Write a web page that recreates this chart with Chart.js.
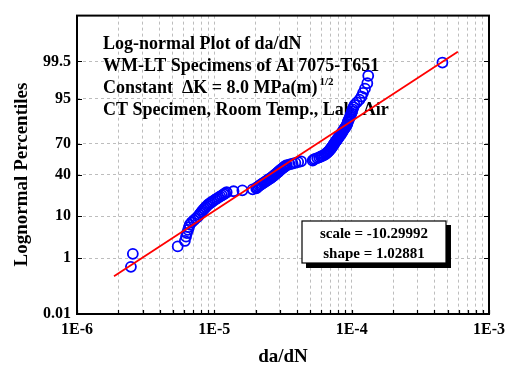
<!DOCTYPE html>
<html>
<head>
<meta charset="utf-8">
<script src="https://cdn.jsdelivr.net/npm/chart.js@4.4.0/dist/chart.umd.min.js"></script>
<style>
  html, body { margin: 0; padding: 0; background: #fff; }
</style>
</head>
<body>
<canvas id="probChart" width="514" height="367"></canvas>
<script>
// measured crack growth rates, sorted
const daDN = [
  2.47e-6, 2.55e-6, 5.41e-6, 6.10e-6, 6.22e-6, 6.32e-6, 6.44e-6, 6.53e-6, 6.62e-6, 6.82e-6,
  7.08e-6, 7.33e-6, 7.60e-6, 7.77e-6, 7.94e-6, 8.11e-6, 8.28e-6, 8.47e-6, 8.65e-6, 8.83e-6,
  9.03e-6, 9.29e-6, 9.57e-6, 9.84e-6, 1.014e-5, 1.043e-5, 1.074e-5, 1.104e-5, 1.137e-5, 1.17e-5,
  1.20e-5, 1.23e-5, 1.38e-5, 1.60e-5, 1.90e-5, 2.02e-5, 2.04e-5, 2.08e-5, 2.13e-5, 2.17e-5,
  2.22e-5, 2.27e-5, 2.32e-5, 2.37e-5, 2.42e-5, 2.47e-5, 2.52e-5, 2.58e-5, 2.63e-5, 2.67e-5,
  2.72e-5, 2.76e-5, 2.81e-5, 2.85e-5, 2.90e-5, 2.94e-5, 2.99e-5, 3.03e-5, 3.08e-5, 3.13e-5,
  3.18e-5, 3.24e-5, 3.29e-5, 3.37e-5, 3.54e-5, 3.71e-5, 3.89e-5, 4.08e-5, 4.28e-5, 5.20e-5,
  5.30e-5, 5.40e-5, 5.61e-5, 5.80e-5, 5.97e-5, 6.15e-5, 6.34e-5, 6.46e-5, 6.55e-5, 6.65e-5,
  6.75e-5, 6.84e-5, 6.93e-5, 7.01e-5, 7.08e-5, 7.16e-5, 7.23e-5, 7.30e-5, 7.36e-5, 7.45e-5,
  7.52e-5, 7.60e-5, 7.68e-5, 7.76e-5, 7.85e-5, 7.94e-5, 8.04e-5, 8.13e-5, 8.22e-5, 8.32e-5,
  8.43e-5, 8.53e-5, 8.63e-5, 8.73e-5, 8.85e-5, 8.97e-5, 9.10e-5, 9.22e-5, 9.29e-5, 9.35e-5,
  9.42e-5, 9.53e-5, 9.64e-5, 9.75e-5, 9.84e-5, 9.95e-5, 1.005e-4, 1.016e-4, 1.03e-4, 1.05e-4,
  1.09e-4, 1.14e-4, 1.18e-4, 1.21e-4, 1.25e-4, 1.30e-4, 1.32e-4, 4.58e-4
];

// plotting positions (%) of each value
const percentiles = [
  0.55, 1.32, 2.10, 2.88, 3.66, 4.44, 5.22, 6.00, 6.78, 7.55,
  8.33, 9.11, 9.89, 10.67, 11.45, 12.23, 13.01, 13.79, 14.56, 15.34,
  16.12, 16.90, 17.68, 18.46, 19.24, 20.02, 20.79, 21.57, 22.35, 23.13,
  23.91, 24.69, 25.47, 26.25, 27.02, 27.80, 28.58, 29.36, 30.14, 30.92,
  31.70, 32.48, 33.26, 34.03, 34.81, 35.59, 36.37, 37.15, 37.93, 38.71,
  39.49, 40.26, 41.04, 41.82, 42.60, 43.38, 44.16, 44.94, 45.72, 46.50,
  47.27, 48.05, 48.83, 49.61, 50.39, 51.17, 51.95, 52.73, 53.50, 54.28,
  55.06, 55.84, 56.62, 57.40, 58.18, 58.96, 59.74, 60.51, 61.29, 62.07,
  62.85, 63.63, 64.41, 65.19, 65.97, 66.74, 67.52, 68.30, 69.08, 69.86,
  70.64, 71.42, 72.20, 72.98, 73.75, 74.53, 75.31, 76.09, 76.87, 77.65,
  78.43, 79.21, 79.98, 80.76, 81.54, 82.32, 83.10, 83.88, 84.66, 85.44,
  86.21, 86.99, 87.77, 88.55, 89.33, 90.11, 90.89, 91.67, 92.45, 93.22,
  94.00, 94.78, 95.56, 96.34, 97.12, 97.90, 98.68, 99.46
];

// fitted lognormal line end points
const fitX = [1.86e-6, 5.93e-4];
const fitP = [0.273, 99.76];

const yTickLabels = ['0.01', '1', '10', '40', '70', '95', '99.5'];
const xTickLabels = ['1E-6', '1E-5', '1E-4', '1E-3'];

const noteLines = [
  'Log-normal Plot of da/dN',
  'WM-LT Specimens of Al 7075-T651',
  'Constant  \u0394K = 8.0 MPa(m)',
  'CT Specimen, Room Temp., Lab. Air'
];
const noteSup = '1/2';
const fitText = ['scale = -10.29992', 'shape = 1.02881'];

const SERIF = '"Liberation Serif", "Times New Roman", serif';

// inverse of the standard normal cdf (probability paper axis)
function probit(p) {
  const a = [-3.969683028665376e+01, 2.209460984245205e+02, -2.759285104469687e+02, 1.383577518672690e+02, -3.066479806614716e+01, 2.506628277459239e+00];
  const b = [-5.447609879822406e+01, 1.615858368580409e+02, -1.556989798598866e+02, 6.680131188771972e+01, -1.328068155288572e+01];
  const c = [-7.784894002430293e-03, -3.223964580411365e-01, -2.400758277161838e+00, -2.549671348283830e+00, 4.374664141464968e+00, 2.938163982698783e+00];
  const d = [7.784695709041462e-03, 3.224671290700398e-01, 2.445134137142996e+00, 3.754408661907416e+00];
  const pl = 0.02425;
  let q, r;
  if (p < pl) {
    q = Math.sqrt(-2 * Math.log(p));
    return (((((c[0]*q+c[1])*q+c[2])*q+c[3])*q+c[4])*q+c[5]) / ((((d[0]*q+d[1])*q+d[2])*q+d[3])*q+1);
  }
  if (p > 1 - pl) {
    q = Math.sqrt(-2 * Math.log(1 - p));
    return -(((((c[0]*q+c[1])*q+c[2])*q+c[3])*q+c[4])*q+c[5]) / ((((d[0]*q+d[1])*q+d[2])*q+d[3])*q+1);
  }
  q = p - 0.5;
  r = q * q;
  return (((((a[0]*r+a[1])*r+a[2])*r+a[3])*r+a[4])*r+a[5])*q / (((((b[0]*r+b[1])*r+b[2])*r+b[3])*r+b[4])*r+1);
}

const pointData = daDN.map((x, i) => ({ x: x, y: probit(percentiles[i] / 100) }));
const fitData = fitX.map((x, i) => ({ x: x, y: probit(fitP[i] / 100) }));

// frame, inward ticks, text notes and the fit box
const decorPlugin = {
  id: 'decor',
  beforeDatasetsDraw(chart) {
    const ctx = chart.ctx;
    ctx.save();
    ctx.fillStyle = '#000';
    ctx.textAlign = 'left';
    ctx.textBaseline = 'alphabetic';
    ctx.font = 'bold 18px ' + SERIF;
    const baselines = [48.5, 70.5, 93, 115];
    noteLines.forEach((t, i) => ctx.fillText(t, 103, baselines[i]));
    const w = ctx.measureText(noteLines[2]).width;
    ctx.font = 'bold 11px ' + SERIF;
    ctx.fillText(noteSup, 103 + w + 2, 85);
    ctx.restore();
  },
  afterDatasetsDraw(chart) {
    const ctx = chart.ctx;
    const a = chart.chartArea;
    const xs = chart.scales.x, ys = chart.scales.y;
    ctx.save();
    ctx.strokeStyle = '#000';
    ctx.lineWidth = 1.2;
    ctx.beginPath();
    xs.ticks.forEach(t => {
      const px = Math.round(xs.getPixelForValue(t.value)) + 0.5;
      ctx.moveTo(px, a.bottom);
      ctx.lineTo(px, a.bottom - 4);
    });
    ys.ticks.forEach(t => {
      const py = Math.round(ys.getPixelForValue(t.value)) + 0.5;
      ctx.moveTo(a.left, py);
      ctx.lineTo(a.left + 5, py);
      ctx.moveTo(a.right, py);
      ctx.lineTo(a.right - 5, py);
    });
    ctx.stroke();

    ctx.lineWidth = 2;
    ctx.strokeRect(a.left, a.top, a.right - a.left, a.bottom - a.top);

    // fit parameter box with shadow
    ctx.fillStyle = '#000';
    ctx.fillRect(306, 225, 145, 43);
    ctx.fillStyle = '#fff';
    ctx.fillRect(302, 221, 144, 42);
    ctx.lineWidth = 1.2;
    ctx.strokeRect(302, 221, 144, 42);
    ctx.fillStyle = '#000';
    ctx.textAlign = 'center';
    ctx.textBaseline = 'middle';
    ctx.font = 'bold 15px ' + SERIF;
    ctx.fillText(fitText[0], 374, 234.5);
    ctx.fillText(fitText[1], 374, 254.5);

    // y axis title
    ctx.translate(22, 174.5);
    ctx.rotate(-Math.PI / 2);
    ctx.font = 'bold 19px ' + SERIF;
    ctx.fillText('Lognormal Percentiles', 0, 0);
    ctx.restore();
  }
};

const config = {
  type: 'scatter',
  data: {
    datasets: [
      {
        label: 'Lognormal fit',
        type: 'line',
        data: fitData,
        borderColor: '#ff0000',
        borderWidth: 1.8,
        pointRadius: 0,
        fill: false,
        order: 0
      },
      {
        label: 'da/dN',
        data: pointData,
        pointStyle: 'circle',
        pointRadius: 5,
        borderColor: '#0000ff',
        backgroundColor: 'rgba(0,0,0,0)',
        borderWidth: 1.8,
        order: 1
      }
    ]
  },
  options: {
    responsive: false,
    animation: false,
    devicePixelRatio: 1,
    layout: { padding: { top: 9, right: 25, left: 0, bottom: 0 } },
    plugins: {
      legend: { display: false },
      tooltip: { enabled: false }
    },
    scales: {
      x: {
        type: 'logarithmic',
        min: 1e-6,
        max: 1e-3,
        afterBuildTicks: scale => {
          const vals = [];
          for (let e = -6; e < -3; e++) {
            for (let m = 1; m <= 9; m++) vals.push(m * Math.pow(10, e));
          }
          vals.push(1e-3);
          scale.ticks = vals.map(v => ({ value: v }));
        },
        afterFit: scale => { scale.height = 53; },
        ticks: {
          autoSkip: false,
          maxRotation: 0,
          padding: 6,
          color: '#000',
          font: { family: SERIF, size: 16, weight: 'bold' },
          callback: function (value, index) {
            return index % 9 === 0 ? xTickLabels[index / 9] : '';
          }
        },
        grid: { color: '#bdbdbd', lineWidth: 1, drawTicks: false },
        border: { display: false, dash: [3, 3] },
        title: {
          display: true,
          text: 'da/dN',
          color: '#000',
          font: { family: SERIF, size: 19, weight: 'bold', lineHeight: 1 },
          padding: { top: 0, bottom: 0 }
        }
      },
      y: {
        type: 'linear',
        min: probit(0.0001),
        max: probit(0.9999),
        afterBuildTicks: scale => {
          scale.ticks = yTickLabels.map(l => ({ value: probit(parseFloat(l) / 100) }));
        },
        afterFit: scale => { scale.width = 77; },
        ticks: {
          autoSkip: false,
          padding: 6,
          color: '#000',
          font: { family: SERIF, size: 16, weight: 'bold' },
          callback: function (value, index) {
            return yTickLabels[index];
          }
        },
        grid: { color: '#bdbdbd', lineWidth: 1, drawTicks: false },
        border: { display: false, dash: [3, 3] }
      }
    }
  },
  plugins: [decorPlugin]
};

new Chart(document.getElementById('probChart'), config);
</script>
</body>
</html>
